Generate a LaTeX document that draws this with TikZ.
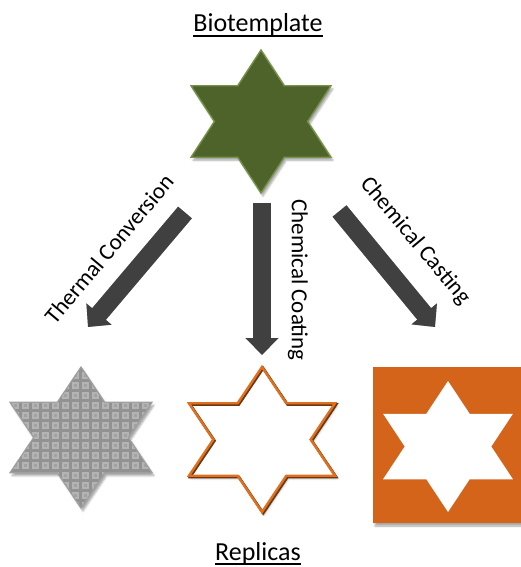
\documentclass[tikz,border=0pt]{standalone}
\usepackage{fontspec}
\setmainfont{Carlito}
\usetikzlibrary{arrows.meta,shadows.blur}

\definecolor{leaf}{RGB}{78,99,42}
\definecolor{leafedge}{RGB}{118,146,74}
\definecolor{rust}{RGB}{211,100,26}
\definecolor{rustline}{RGB}{222,112,32}
\definecolor{rustdark}{RGB}{110,55,18}
\definecolor{arrowgray}{RGB}{64,64,64}
\definecolor{meshbase}{RGB}{146,146,146}
\definecolor{meshcell}{RGB}{180,180,180}
\definecolor{meshdot}{RGB}{162,162,162}

% six-pointed star of unit outer radius, centred on the origin
\newcommand{\hexpts}{(90:1) -- (60:0.57735) -- (30:1) -- (0:0.57735) -- (-30:1) -- (-60:0.57735) -- (-90:1) -- (-120:0.57735) -- (-150:1) -- (180:0.57735) -- (150:1) -- (120:0.57735) -- cycle}

\tikzset{
  title/.style={font=\fontsize{26}{30}\selectfont, inner sep=0pt, anchor=base},
  steplabel/.style={font=\fontsize{23}{27}\selectfont, inner sep=0pt},
  flow/.style={draw=arrowgray, line width=18pt, line cap=butt,
    -{Triangle[width=32pt,length=17pt]}},
  flowshadow/.style={draw=black, opacity=0.3, line width=18pt, line cap=butt,
    -{Triangle[width=32pt,length=17pt]}, xshift=2pt, yshift=-3pt},
}

\begin{document}
\begin{tikzpicture}[x=1pt, y=-1pt]
\useasboundingbox (0,0) rectangle (520,567);

% ---------- titles ----------
\node[title] (bio) at (258,32) {Biotemplate};
\draw[line width=1.4pt] ([yshift=-4pt]bio.base west) -- ([yshift=-4pt]bio.base east);
\node[title] (rep) at (258,560) {Replicas};
\draw[line width=1.4pt] ([yshift=-4pt]rep.base west) -- ([yshift=-4pt]rep.base east);

% ---------- biotemplate star ----------
\coordinate (tmpl) at (261,121.5);
\begin{scope}[shift={(tmpl)}, xscale=80.8, yscale=71.5]
  \path[blur shadow={shadow xshift=2pt, shadow yshift=-3pt, shadow opacity=35},
        fill=leaf, draw=leafedge, line width=1.4pt, line join=miter] \hexpts;
\end{scope}

% ---------- textured replica ----------
\coordinate (mesh) at (81,437.5);
\begin{scope}[shift={(mesh)}, xscale=82, yscale=70.5]
  \path[blur shadow={shadow xshift=2pt, shadow yshift=-3pt, shadow opacity=35},
        fill=meshbase] \hexpts;
\end{scope}
\begin{scope}
  \clip[shift={(mesh)}, xscale=82, yscale=70.5] \hexpts;
  \foreach \i in {0,...,15} {
    \foreach \j in {0,...,15} {
      \fill[meshcell] (2+10*\i,362+10*\j) rectangle ++(7,7);
      \fill[meshdot] (4+10*\i,364+10*\j) rectangle ++(3,3);
    }
  }
\end{scope}
\begin{scope}[shift={(mesh)}, xscale=82, yscale=70.5]
  \draw[gray!75, line width=1.2pt, line join=miter] \hexpts;
\end{scope}

% ---------- coated replica ----------
\coordinate (shell) at (262,439.5);
\begin{scope}[shift={(shell)}, xscale=84.3, yscale=72.5]
  \path[blur shadow={shadow xshift=2pt, shadow yshift=-3pt, shadow opacity=30},
        fill=white] \hexpts;
\end{scope}
\begin{scope}[shift={(263.2,440.7)}, xscale=84.3, yscale=72.5]
  \draw[rustdark, line width=2.6pt, line join=miter] \hexpts;
\end{scope}
\begin{scope}[shift={(shell)}, xscale=84.3, yscale=72.5]
  \draw[rustline, line width=2.4pt, line join=miter] \hexpts;
\end{scope}

% ---------- cast replica ----------
\path[blur shadow={shadow xshift=2pt, shadow yshift=-3pt, shadow opacity=35},
      fill=rust] (373,367) rectangle (526,523);
\coordinate (cast) at (448,446.5);
\begin{scope}[shift={(cast)}, xscale=75, yscale=65.5]
  \fill[white] \hexpts;
\end{scope}

% ---------- process arrows ----------
\coordinate (thA) at (185,212.5);
\coordinate (thB) at (88,327);
\coordinate (coA) at (262,203);
\coordinate (coB) at (262,355);
\coordinate (caA) at (339.5,211);
\coordinate (caB) at (435,327);

\draw[flowshadow] (thA) -- (thB);
\draw[flowshadow] (coA) -- (coB);
\draw[flowshadow] (caA) -- (caB);
\draw[flow] (thA) -- (thB);
\draw[flow] (coA) -- (coB);
\draw[flow] (caA) -- (caB);

% ---------- arrow labels ----------
\node[steplabel, rotate=50] (thl) at (109,249) {Thermal Conversion};
\node[steplabel, rotate=-90] (col) at (298,280) {Chemical Coating};
\node[steplabel, rotate=-50] (cal) at (415,241) {Chemical Casting};
\end{tikzpicture}
\end{document}
